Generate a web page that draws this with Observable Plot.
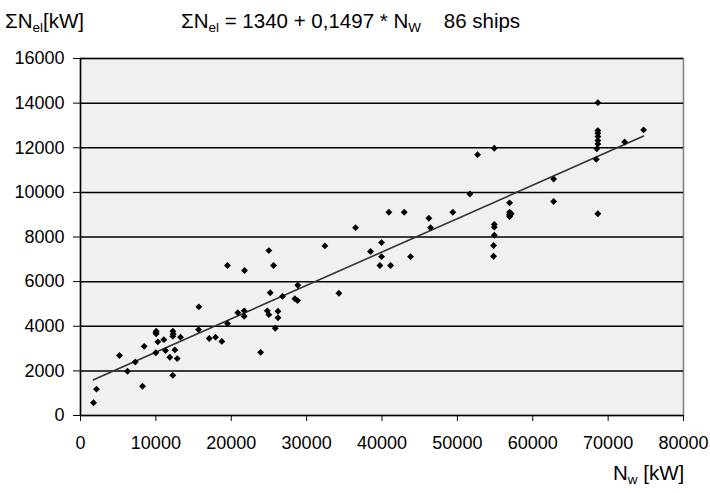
<!DOCTYPE html>
<html>
<head>
<meta charset="utf-8">
<script src="https://cdn.jsdelivr.net/npm/d3@7"></script>
<script src="https://cdn.jsdelivr.net/npm/@observablehq/plot@0.6"></script>
<style>
  html, body { margin: 0; padding: 0; background: #fff; }
  #wrap { position: relative; width: 710px; height: 493px; font-family: "Liberation Sans", Arial, sans-serif; color: #000; overflow: hidden; }
  .lbl { position: absolute; font-size: 20.5px; white-space: nowrap; line-height: 1; }
  .lbl sub { font-size: 13.5px; vertical-align: -4px; }
  #wrap svg text { font-size: 18px; }
</style>
</head>
<body>
<div id="wrap">
  <div class="lbl" style="left:5px; top:11px;">ΣN<sub>el</sub>[kW]</div>
  <div class="lbl" style="left:181px; top:11px;">ΣN<sub>el</sub> = 1340 + 0,1497 * N<sub>W</sub>&nbsp;&nbsp;&nbsp; 86 ships</div>
  <div class="lbl" style="left:613px; top:463px;">N<sub>w</sub> [kW]</div>
</div>
<script>
// Installed propulsion power N_W [kW] of each ship
const nw = [
  1730, 2120, 5170, 6240, 7260, 8230, 8450, 10040, 10040, 9990,
  10260, 11060, 11280, 11850, 12250, 12250, 12520, 12250, 12830, 13270,
  12300, 15700, 15660, 17080, 17920, 18750, 19510, 19500, 20870, 21720,
  21720, 21760, 23900, 24990, 25610, 25170, 24780, 24990, 26800, 26200,
  26200, 25840, 28440, 28800, 28830, 32420, 34280, 36490, 38480, 39940,
  39940, 39720, 41140, 40910, 42950, 43790, 46220, 46440, 49400, 51660,
  52680, 54900, 54900, 54900, 54900, 54800, 54800, 56930, 56930, 57150,
  56930, 62770, 62770, 68640, 68640, 68640, 68640, 68640, 68500, 68430,
  68640, 72190, 74710, 10000, 56900, 68640
];
// Total electric power ΣN_el [kW] of each ship
const nel = [
  570, 1180, 2690, 1985, 2400, 1310, 3100, 3780, 3660, 2810,
  3300, 3400, 2910, 2610, 3780, 3550, 2940, 1800, 2550, 3510,
  3650, 4870, 3850, 3450, 3510, 3320, 4120, 6720, 4610, 4690,
  4450, 6500, 2830, 7390, 6720, 5500, 4690, 4520, 5340, 4670,
  4380, 3910, 5230, 5150, 5840, 7600, 5480, 8420, 7350, 7750,
  7120, 6720, 6720, 9110, 9110, 7120, 8840, 8420, 9110, 9930,
  11690, 11980, 8560, 8440, 8080, 7620, 7140, 9530, 9110, 9040,
  8920, 10600, 9590, 14020, 12770, 12650, 12320, 12170, 11950, 11480,
  9040, 12260, 12800, 3700, 9000, 12500
];
// Regression ΣN_el = a + b * N_W
const intercept = 1340;
const slope = 0.1497;
const xTicks = [0, 10000, 20000, 30000, 40000, 50000, 60000, 70000, 80000];
const yTicks = [0, 2000, 4000, 6000, 8000, 10000, 12000, 14000, 16000];

const ships = nw.map((x, i) => ({x, y: nel[i]}));
const xMin = d3.min(nw), xMax = d3.max(nw);
const fit = [xMin, xMax].map(x => ({x, y: intercept + slope * x}));

const chart = Plot.plot({
  width: 710,
  height: 493,
  marginLeft: 80,
  marginRight: 27,
  marginTop: 58,
  marginBottom: 78,
  style: {fontFamily: "'Liberation Sans', Arial, sans-serif", fontSize: "18px", color: "#000", background: "transparent", overflow: "visible"},
  x: {domain: [0, 80000]},
  y: {domain: [0, 16000]},
  marks: [
    Plot.frame({fill: "#f0f0f0", stroke: "#7f7f7f", strokeWidth: 1.5}),
    Plot.ruleY(yTicks, {stroke: "#000", strokeWidth: 1.5}),
    Plot.ruleX([0], {stroke: "#000", strokeWidth: 1.5}),
    Plot.axisY(yTicks, {tickSize: 7, tickPadding: 9, tickFormat: d => String(d), stroke: "#000", label: null, fontSize: 18}),
    Plot.axisX(xTicks, {tickSize: 6, tickPadding: 15, tickFormat: d => String(d), stroke: "#000", label: null, fontSize: 18}),
    Plot.line(fit, {x: "x", y: "y", stroke: "#333", strokeWidth: 1.6}),
    Plot.dot(ships, {x: "x", y: "y", symbol: "diamond2", r: 3.1, fill: "#000", stroke: "none"})
  ]
});
document.getElementById("wrap").prepend(chart);
chart.style.position = "absolute";
chart.style.left = "0";
chart.style.top = "0";
</script>
</body>
</html>
